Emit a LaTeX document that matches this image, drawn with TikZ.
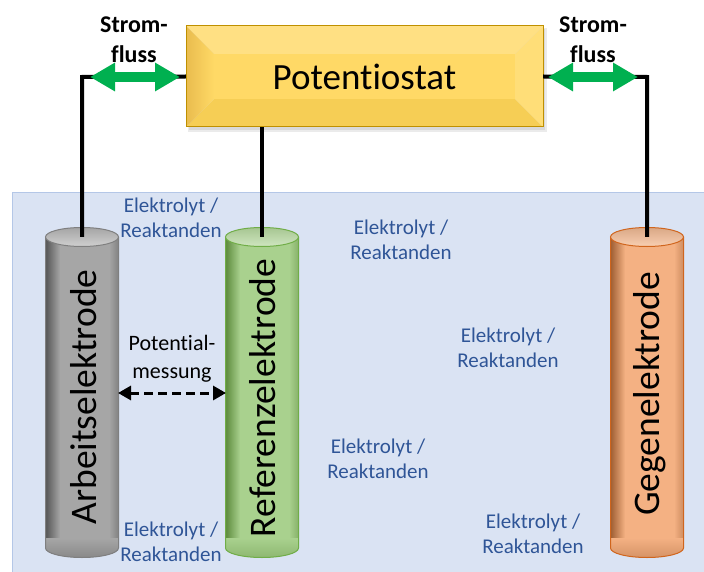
\documentclass[tikz,border=0pt]{standalone}
\usepackage{fontspec}
\setmainfont{Carlito}[Ligatures={NoCommon,NoRare,NoContextual}]
\usetikzlibrary{arrows.meta}
\definecolor{elfill}{HTML}{DAE3F3}
\definecolor{elborder}{HTML}{B4C7E7}
\definecolor{eltext}{HTML}{2F5597}
\definecolor{arrowgreen}{HTML}{00B050}
\definecolor{goldmid}{HTML}{FFD966}
\definecolor{goldtop}{HTML}{FFE083}
\definecolor{goldleft}{HTML}{E9BC4E}
\definecolor{goldright}{HTML}{FFDE78}
\definecolor{goldbot}{HTML}{F6CE55}
\definecolor{goldborder}{HTML}{BF9000}
\definecolor{graybody}{HTML}{A6A6A6}
\definecolor{graydark}{HTML}{555555}
\definecolor{graytop}{HTML}{D0D0D0}
\definecolor{grayborder}{HTML}{7F7F7F}
\definecolor{greenbody}{HTML}{A9D18E}
\definecolor{greendark}{HTML}{5C8A3C}
\definecolor{greentop}{HTML}{CFE6C0}
\definecolor{greenborder}{HTML}{70AD47}
\definecolor{orangebody}{HTML}{F4B183}
\definecolor{orangedark}{HTML}{9E5E33}
\definecolor{orangetop}{HTML}{F9CFB2}
\definecolor{orangeborder}{HTML}{D0651D}
\tikzset{
  wire/.style={line width=4pt, black},
  greenarrow/.style={line width=10pt, arrowgreen,
    {Triangle[length=25pt,width=27pt]}-{Triangle[length=25pt,width=27pt]}},
  measarrow/.style={line width=3pt, black, dash pattern=on 9pt off 5pt,
    {Triangle[length=13pt,width=14pt]}-{Triangle[length=13pt,width=14pt]}},
  elab/.style={align=center, text=eltext, font=\fontsize{21}{25}\selectfont, inner sep=0pt},
  stromlab/.style={align=center, font=\bfseries\fontsize{24}{30}\selectfont, inner sep=0pt},
  electext/.style={rotate=90, font=\fontsize{37.5}{44}\selectfont, inner sep=0pt}
}
\newcommand{\mycyl}[5]{%
  \begin{scope}
    \fill[#2] (#1-36.5,237) -- (#1-36.5,548) arc[start angle=180,end angle=0,x radius=36.5,y radius=9.5] -- (#1+36.5,237) -- cycle;
    \clip (#1-36.5,237) -- (#1-36.5,548) arc[start angle=180,end angle=0,x radius=36.5,y radius=9.5] -- (#1+36.5,237) -- cycle;
    \shade[left color=#3, right color=#2] (#1-36.5,225) rectangle (#1-22,560);
    \shade[left color=#2, right color=#3!45!#2] (#1+27,225) rectangle (#1+36.6,560);
    \shade[top color=#2, bottom color=#3!40!#2] (#1-40,538) rectangle (#1+40,560);
  \end{scope}
  \draw[#5, line width=1pt] (#1-36.5,237) -- (#1-36.5,548) arc[start angle=180,end angle=0,x radius=36.5,y radius=9.5] -- (#1+36.5,237);
  \draw[#5, line width=1pt, top color=#3!35!#4, bottom color=#4] (#1,237) ellipse[x radius=36.5, y radius=9.5];
}
\begin{document}
\begin{tikzpicture}[x=1pt,y=-1pt]
\useasboundingbox (0,0) rectangle (704,572);
% electrolyte region
\fill[elfill] (12.5,192.5) rectangle (712,580);
\draw[elborder, line width=1pt] (712,192.5) -- (12.5,192.5) -- (12.5,580);
% potentiostat box
\fill[black, opacity=0.08] (188,28) rectangle (547,132);
\fill[black, opacity=0.08] (189,29) rectangle (545,130);
\fill[goldtop] (186,26) -- (543,26) -- (515,54) -- (214,54) -- cycle;
\fill[goldbot] (186,127) -- (543,127) -- (515,99) -- (214,99) -- cycle;
\shade[left color=goldleft, right color=goldmid] (186,26) -- (214,54) -- (214,99) -- (186,127) -- cycle;
\fill[goldright] (543,26) -- (515,54) -- (515,99) -- (543,127) -- cycle;
\fill[goldmid] (214,54) rectangle (515,99);
\draw[goldborder, line width=1pt] (186,26) rectangle (543,127);
\node[font=\fontsize{37}{44}\selectfont, minimum width=357pt, minimum height=101pt, inner sep=0pt] (pot) at (364.5,76.5) {Potentiostat};
% cylinders
\mycyl{82}{graybody}{graydark}{graytop}{grayborder}
\mycyl{262}{greenbody}{greendark}{greentop}{greenborder}
\mycyl{647}{orangebody}{orangedark}{orangetop}{orangeborder}
\coordinate (wtop) at (82,237);
\coordinate (rtop) at (262,237);
\coordinate (ctop) at (647,237);
\coordinate (lcorner) at (82,77);
\coordinate (rcorner) at (647,77);
% wires
\draw[wire] (pot.west) -- (lcorner) -- (wtop);
\draw[wire] (pot.south -| rtop) -- (rtop);
\draw[wire] (pot.east) -- (rcorner) -- (ctop);
% current arrows
\coordinate (la1) at (90,77);
\coordinate (la2) at (180,77);
\coordinate (ra1) at (548,77);
\coordinate (ra2) at (638,77);
\draw[greenarrow] (la1) -- (la2);
\draw[greenarrow] (ra1) -- (ra2);
\node[stromlab] (sl) at (134,40) {Strom-\\fluss};
\node[stromlab] (sr) at (593,40) {Strom-\\fluss};
% electrode labels
\node[electext] (we) at (84,397) {Arbeitselektrode};
\node[electext] (re) at (263,398) {Referenzelektrode};
\node[electext] (ce) at (650,394) {Gegenelektrode};
% potential measurement
\coordinate (pm1) at (118,393);
\coordinate (pm2) at (226,393);
\draw[measarrow] (pm1) -- (pm2);
\node[align=center, font=\fontsize{22}{28}\selectfont, inner sep=0pt] (pm) at (172,359) {Potential-\\messung};
% electrolyte labels
\node[elab] (e1) at (171,218) {Elektrolyt /\\Reaktanden};
\node[elab] (e2) at (401,240) {Elektrolyt /\\Reaktanden};
\node[elab] (e3) at (508,348) {Elektrolyt /\\Reaktanden};
\node[elab] (e4) at (378,459) {Elektrolyt /\\Reaktanden};
\node[elab] (e5) at (171,542) {Elektrolyt /\\Reaktanden};
\node[elab] (e6) at (533,534) {Elektrolyt /\\Reaktanden};
\end{tikzpicture}
\end{document}
